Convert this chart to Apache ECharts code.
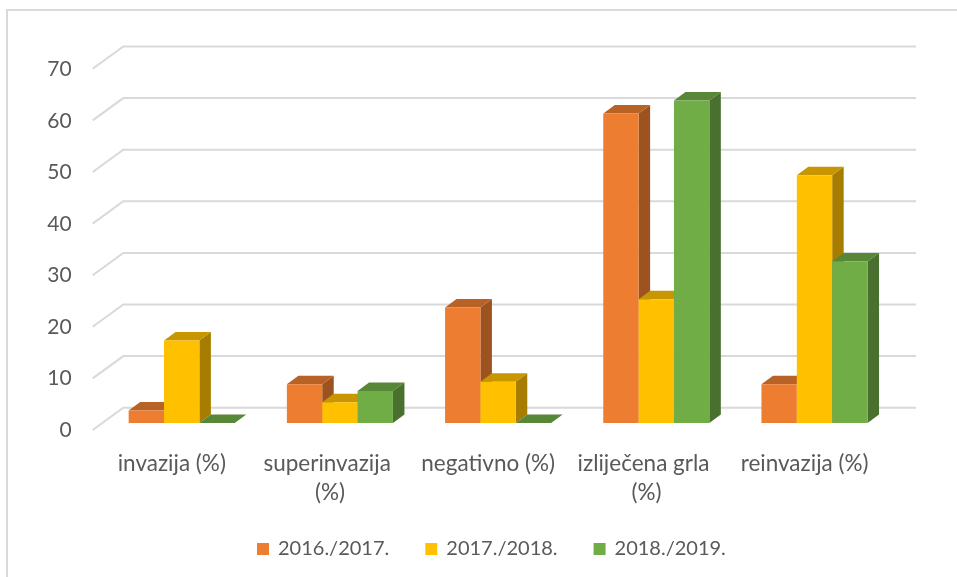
<!DOCTYPE html>
<html>
<head>
<meta charset="utf-8">
<script src="https://cdn.jsdelivr.net/npm/echarts@6/dist/echarts.min.js"></script>
<style>
html,body{margin:0;padding:0;background:#fff;}
#chart{width:957px;height:577px;}
</style>
</head>
<body>
<div id="chart"></div>
<script>
// ---- data ----
const categories = ['invazija (%)', 'superinvazija (%)', 'negativno (%)', 'izliječena grla (%)', 'reinvazija (%)'];
const seriesNames = ['2016./2017.', '2017./2018.', '2018./2019.'];
const s2016 = [2.4, 7.5, 22.4, 60, 7.5];
const s2017 = [16, 4, 8, 24, 48];
const s2018 = [0, 6.2, 0, 62.5, 31.3];
const yTicks = [0, 10, 20, 30, 40, 50, 60, 70];

// ---- styles ----
const FONT = 'Lato';
const TXT = '#595959';
const frontColors = ['#ED7D31', '#FFC000', '#70AD47'];
const topColors = ['#B96226', '#C79600', '#578737'];
const sideColors = ['#9C531F', '#A67D00', '#49702E'];
const DX = 11.5, DY = 8.5; // bar depth projection

const chart = echarts.init(document.getElementById('chart'), null, {renderer: 'canvas'});

function barSeries(name, values, k) {
  return {
    type: 'custom',
    name: name,
    xAxisIndex: 0, yAxisIndex: 0,
    z: 3,
    itemStyle: {color: frontColors[k]},
    data: values.map((v, i) => [i, v]),
    encode: {x: 0, y: 1},
    renderItem: function (params, api) {
      const c = api.value(0), v = api.value(1);
      const base = api.coord([c, 0]);
      const top = api.coord([c, v]);
      const band = api.size([1, 0])[0];
      const w = band * 0.2235;
      const x0 = base[0] - 1.5 * w + k * w;
      const x1 = x0 + w;
      const yb = base[1], yt = top[1];
      const children = [];
      children.push({
        type: 'polygon',
        shape: {points: [[x1, yt], [x1 + DX, yt - DY], [x1 + DX, yb - DY], [x1, yb]]},
        style: {fill: sideColors[k]}
      });
      children.push({
        type: 'polygon',
        shape: {points: [[x0, yt], [x1, yt], [x1 + DX, yt - DY], [x0 + DX, yt - DY]]},
        style: {fill: topColors[k]}
      });
      if (yb - yt > 0.1) {
        children.push({
          type: 'rect',
          shape: {x: x0, y: yt, width: w, height: yb - yt},
          style: {fill: frontColors[k]}
        });
      }
      return {type: 'group', children: children};
    }
  };
}

const option = {
  animation: false,
  backgroundColor: '#ffffff',
  textStyle: {fontFamily: FONT},
  graphic: [{
    type: 'polyline',
    shape: {points: [[7, 577], [7, 10], [957, 10]]},
    style: {stroke: '#d9d9d9', lineWidth: 2, fill: null},
    silent: true
  }],
  grid: [
    {left: 102.6, right: 63.4, top: 61.8, bottom: 154},
    {left: 92.7, right: 73.3, top: 69.3, bottom: 147}
  ],
  xAxis: [
    {gridIndex: 0, type: 'category', data: categories, show: false},
    {
      gridIndex: 1, type: 'category', data: categories,
      axisLine: {show: false}, axisTick: {show: false}, splitLine: {show: false},
      axisLabel: {
        interval: 0, color: TXT, fontSize: 22.5, fontFamily: FONT,
        width: 152, overflow: 'break', lineHeight: 29, margin: 19
      }
    }
  ],
  yAxis: [
    {gridIndex: 0, type: 'value', min: 0, max: 70, interval: 10, show: false},
    {
      gridIndex: 1, type: 'value', min: 0, max: 70, interval: 10,
      axisLine: {show: false}, axisTick: {show: false}, splitLine: {show: false},
      axisLabel: {color: TXT, fontSize: 21, fontFamily: FONT, margin: 21}
    }
  ],
  legend: {
    data: seriesNames,
    left: 252, top: 534,
    icon: 'rect', itemWidth: 12, itemHeight: 12, itemGap: 36,
    textStyle: {color: TXT, fontSize: 20, fontFamily: FONT, padding: [0, 0, 0, 4]}
  },
  series: [
    {
      type: 'custom',
      name: 'grid',
      xAxisIndex: 0, yAxisIndex: 0,
      z: 1,
      silent: true,
      data: yTicks.map(v => [0, v]),
      encode: {x: 0, y: 1},
      renderItem: function (params, api) {
        const y = api.coord([0, api.value(1)])[1];
        const cs = params.coordSys;
        return {
          type: 'polyline',
          shape: {points: [[cs.x - 9.9, y + 7], [cs.x + 20.7, y - 15.3], [cs.x + cs.width + 22.4, y - 15.3]]},
          style: {stroke: '#d9d9d9', lineWidth: 2, fill: null}
        };
      }
    },
    barSeries(seriesNames[0], s2016, 0),
    barSeries(seriesNames[1], s2017, 1),
    barSeries(seriesNames[2], s2018, 2)
  ]
};
chart.setOption(option);
</script>
</body>
</html>
